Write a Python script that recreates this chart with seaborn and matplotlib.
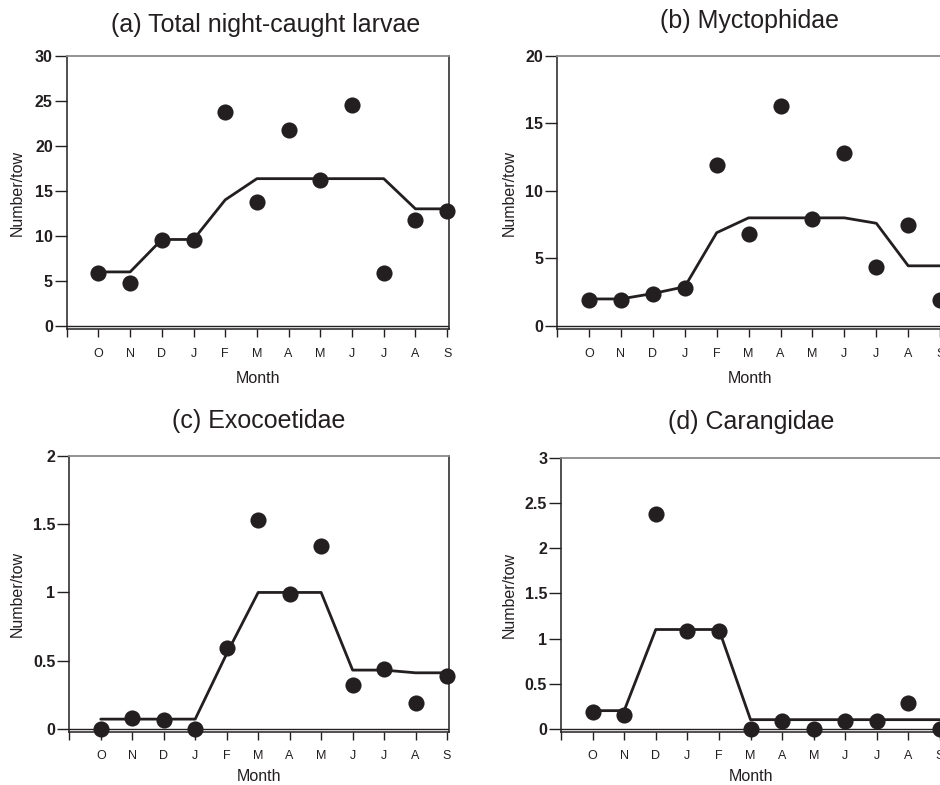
import numpy as np
import pandas as pd
import seaborn as sns
import matplotlib.pyplot as plt

# month labels (Oct -> Sep), plotted at positions 0..11
months = ["O", "N", "D", "J", "F", "M", "A", "M", "J", "J", "A", "S"]

# (a) Total night-caught larvae
total_obs = [5.9, 4.8, 9.5, 9.5, 23.8, 13.8, 21.8, 16.2, 24.5, 5.9, 11.8, 12.8]
total_fit = [6.0, 6.0, 9.6, 9.6, 14.0, 16.35, 16.35, 16.35, 16.35, 16.35, 13.0, 13.0]

# (b) Myctophidae
myct_obs = [1.9, 1.9, 2.35, 2.8, 11.9, 6.8, 16.3, 7.9, 12.8, 4.35, 7.45, 1.9]
myct_fit = [2.0, 2.0, 2.4, 2.9, 6.9, 8.0, 8.0, 8.0, 8.0, 7.6, 4.45, 4.45]

# (c) Exocoetidae
exo_obs = [0.0, 0.08, 0.06, 0.0, 0.59, 1.53, 0.99, 1.34, 0.32, 0.44, 0.19, 0.39]
exo_fit = [0.07, 0.07, 0.07, 0.07, 0.55, 1.0, 1.0, 1.0, 0.43, 0.43, 0.41, 0.41]

# (d) Carangidae
car_obs = [0.18, 0.15, 2.38, 1.08, 1.08, 0.0, 0.09, 0.0, 0.09, 0.09, 0.29, 0.0]
car_fit = [0.2, 0.2, 1.1, 1.1, 1.1, 0.1, 0.1, 0.1, 0.1, 0.1, 0.1, 0.1]

panels = [
    ("(a) Total night-caught larvae", total_obs, total_fit, 30, 5),
    ("(b) Myctophidae", myct_obs, myct_fit, 20, 5),
    ("(c) Exocoetidae", exo_obs, exo_fit, 2, 0.5),
    ("(d) Carangidae", car_obs, car_fit, 3, 0.5),
]

# axes rectangles in figure fractions (right column runs off the page edge)
rects = [
    [0.0710, 0.5803, 0.4067, 0.3488],
    [0.5926, 0.5803, 0.4096, 0.3488],
    [0.0737, 0.0673, 0.4039, 0.3515],
    [0.5968, 0.0673, 0.4053, 0.3490],
]
title_pads = [17, 20, 20, 21]
title_x = [0.521, 0.5, 0.5, 0.5]
ylabel_x = [-0.109, -0.104, -0.117, -0.115]
xlabel_pads = [8, 8, 5, 5]

ink = "#231f20"

sns.set_theme(style="ticks")
plt.rcParams["font.family"] = ["Liberation Sans", "DejaVu Sans"]

fig = plt.figure(figsize=(9.4, 7.85), dpi=100)
pos = np.arange(len(months))

for i, (title, obs, fit, ymax, step) in enumerate(panels):
    ax = fig.add_axes(rects[i])
    df = pd.DataFrame({"pos": pos, "obs": obs, "fit": fit})

    sns.lineplot(data=df, x="pos", y="fit", ax=ax, color=ink, linewidth=2.0,
                 zorder=3, clip_on=False)
    sns.scatterplot(data=df, x="pos", y="obs", ax=ax, color=ink, s=135,
                    linewidth=0, zorder=4, clip_on=False)
    ax.axhline(0, color=ink, linewidth=1.0, zorder=2)

    # small gap between the zero line and the month axis
    gap = ymax * 0.0129
    ax.set_ylim(-gap, ymax)
    ax.set_xlim(-1, 11.06)

    yt = np.arange(0, ymax + step / 2, step)
    ax.set_yticks(yt)
    ax.set_yticklabels(["{:g}".format(v) for v in yt], fontweight="bold", fontsize=11.5)
    ax.set_xticks(np.arange(-1, 12))
    ax.set_xticklabels([""] + months, fontsize=9)

    ax.tick_params(axis="y", length=9, width=1.0, pad=1, color=ink, labelcolor=ink)
    ax.tick_params(axis="x", length=6, width=1.0, pad=7, color=ink, labelcolor=ink)

    for side in ["left", "right", "bottom"]:
        ax.spines[side].set_color(ink)
        ax.spines[side].set_linewidth(1.1)
    ax.spines["top"].set_color("#8a8a8a")
    ax.spines["top"].set_linewidth(1.3)

    ax.set_xlabel("Month", fontsize=11.5, color=ink, labelpad=xlabel_pads[i])
    ax.set_ylabel("Number/tow", fontsize=11.5, color=ink)
    ax.yaxis.set_label_coords(ylabel_x[i], 0.5)
    ax.set_title(title, fontsize=18, color=ink, pad=title_pads[i], x=title_x[i])

fig.savefig("out.png", dpi=100)
